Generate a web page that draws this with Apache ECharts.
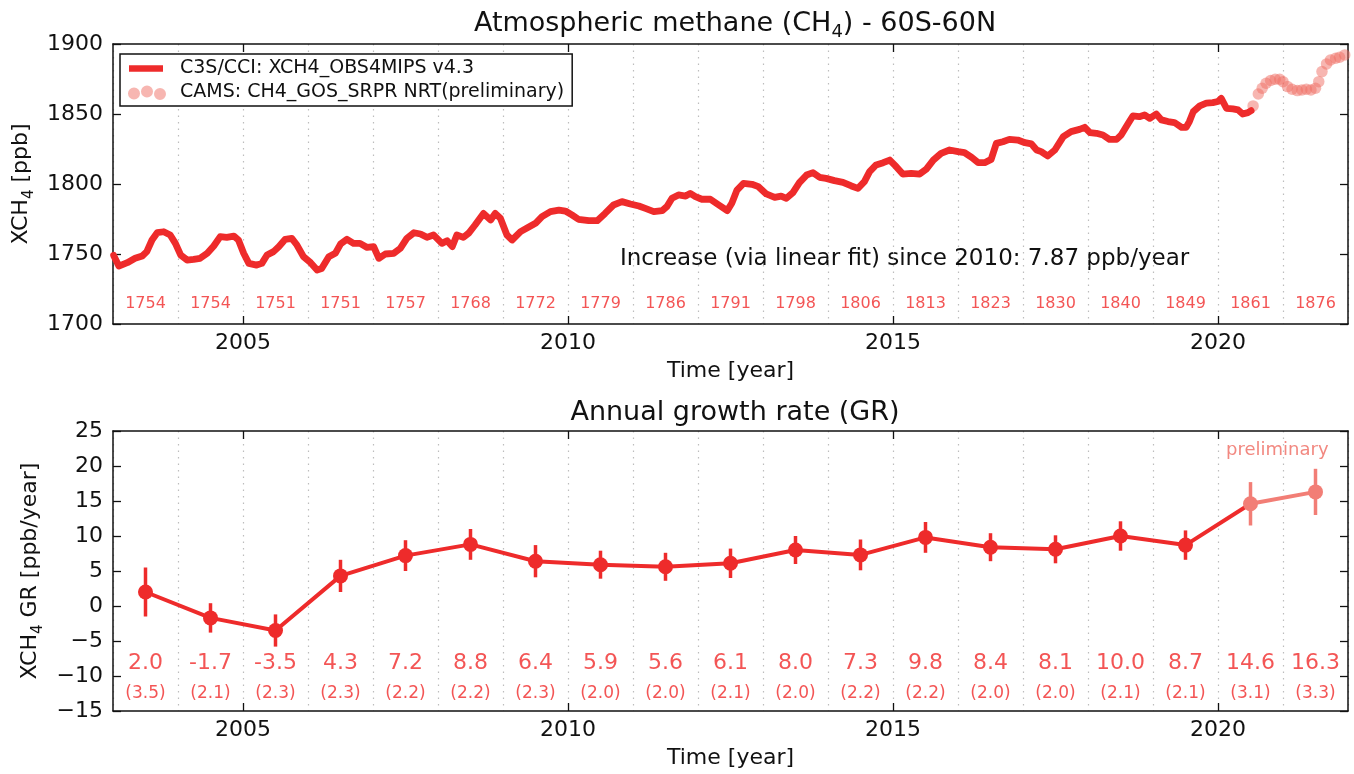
<!DOCTYPE html>
<html><head><meta charset="utf-8">
<script src="https://cdn.jsdelivr.net/npm/echarts@6/dist/echarts.min.js"></script>
<style>html,body{margin:0;padding:0;background:#fff}#c{width:1354px;height:774px}</style>
</head><body><div id="c"></div><script>
// ---------- DATA ----------
const years = [2003,2004,2005,2006,2007,2008,2009,2010,2011,2012,2013,2014,2015,2016,2017,2018,2019,2020,2021];
const annualMean = [1754,1754,1751,1751,1757,1768,1772,1779,1786,1791,1798,1806,1813,1823,1830,1840,1849,1861,1876];
const growthRate = [2.0,-1.7,-3.5,4.3,7.2,8.8,6.4,5.9,5.6,6.1,8.0,7.3,9.8,8.4,8.1,10.0,8.7,14.6,16.3];
const growthErr  = [3.5,2.1,2.3,2.3,2.2,2.2,2.3,2.0,2.0,2.1,2.0,2.2,2.2,2.0,2.0,2.1,2.1,3.1,3.3];
const nPrelimYears = 2;
const xTickValues = [2005, 2010, 2015, 2020];

const xch4Time = [2003.01,2003.09,2003.22,2003.34,2003.45,2003.52,2003.60,2003.68,2003.78,2003.88,2003.96,
 2004.04,2004.14,2004.24,2004.34,2004.45,2004.55,2004.65,2004.75,2004.86,2004.93,
 2005.01,2005.09,2005.21,2005.29,2005.37,2005.47,2005.55,2005.65,2005.75,2005.83,2005.93,
 2006.04,2006.14,2006.21,2006.32,2006.42,2006.50,2006.60,2006.70,2006.80,2006.91,
 2007.01,2007.09,2007.19,2007.32,2007.42,2007.52,2007.63,2007.73,2007.83,2007.93,
 2008.06,2008.14,2008.22,2008.29,2008.39,2008.47,2008.57,2008.70,2008.81,2008.88,2008.96,
 2009.06,2009.14,2009.27,2009.39,2009.50,2009.60,2009.73,2009.86,2009.96,
 2010.06,2010.16,2010.32,2010.45,2010.57,2010.70,2010.83,2010.96,
 2011.09,2011.19,2011.32,2011.45,2011.52,2011.60,2011.70,2011.81,2011.88,2011.96,
 2012.06,2012.19,2012.32,2012.45,2012.52,2012.60,2012.70,2012.83,2012.93,
 2013.05,2013.18,2013.28,2013.36,2013.46,2013.56,2013.67,2013.77,2013.87,2013.97,
 2014.10,2014.23,2014.36,2014.46,2014.56,2014.64,2014.74,2014.85,2014.95,
 2015.05,2015.15,2015.28,2015.41,2015.51,2015.62,2015.74,2015.87,
 2016.00,2016.10,2016.21,2016.31,2016.41,2016.51,2016.59,2016.69,2016.79,2016.92,
 2017.03,2017.13,2017.21,2017.28,2017.38,2017.49,2017.62,2017.74,2017.87,2017.95,
 2018.03,2018.13,2018.23,2018.33,2018.44,2018.51,2018.62,2018.69,2018.79,2018.87,2018.95,
 2019.05,2019.13,2019.23,2019.33,2019.44,2019.51,2019.56,2019.62,2019.72,2019.82,2019.92,
 2020.00,2020.05,2020.13,2020.23,2020.31,2020.38,2020.46,2020.51];
const xch4Value = [1749,1741.4,1743.8,1746.9,1748.6,1751.7,1760,1765.2,1765.9,1763.6,1757.6,
 1749.3,1745.7,1746.2,1746.9,1750.5,1755.7,1762.4,1761.9,1762.8,1760,
 1750.5,1743.3,1742.1,1743.3,1749.3,1751.7,1755.2,1760.5,1761.2,1756.4,1748.1,
 1743.8,1738.6,1739.7,1748.1,1750.5,1757.1,1760.5,1757.6,1757.6,1754.7,
 1755.2,1746.9,1750,1750.5,1754,1761.2,1765.2,1764.3,1761.9,1763.6,
 1757.6,1759.5,1755.3,1763.6,1761.9,1764.8,1770.7,1779,1774.3,1779,1775.5,
 1763.6,1760,1766,1769.1,1771.9,1776.7,1780.3,1781.4,1780.7,
 1777.9,1774.8,1773.8,1773.8,1779,1785,1787.4,1785.7,
 1784.3,1782.6,1780.3,1781,1783.8,1789.8,1792.2,1791.4,1793.3,1791,
 1789.1,1789.1,1785,1781,1786.2,1795.7,1800.5,1799.8,1798.1,
 1792.9,1790.5,1791.4,1789.8,1793.8,1801,1806.4,1808.1,1804.8,1804,
 1802.4,1801.2,1798.6,1796.9,1801.7,1808.8,1813.6,1815.2,1817.1,
 1812.4,1807.1,1807.6,1807.1,1810.5,1817.1,1821.9,1824.3,
 1823.1,1822.4,1819,1815.2,1815.2,1817.6,1829,1830.2,1831.9,1831.4,
 1829.5,1828.6,1824.3,1823.1,1820,1824.3,1833.8,1837.4,1839,1840.5,
 1836.7,1836.2,1835,1831.9,1831.9,1835,1843.4,1848.6,1848.1,1849.3,1846.9,
 1850,1845.8,1844.6,1843.9,1840.5,1840.5,1844.6,1851.7,1855.8,1857.7,1858.1,
 1858.9,1861.2,1854.1,1853.6,1852.9,1850,1851,1852.4];
const camsTime = [2020.54,2020.62,2020.68,2020.74,2020.81,2020.88,2020.95,2021.00,2021.07,2021.14,2021.22,
 2021.29,2021.36,2021.43,2021.50,2021.55,2021.60,2021.67,2021.73,2021.81,2021.87,2021.95];
const camsValue = [1855.8,1864.3,1868.4,1872,1873.9,1874.8,1874.8,1873.1,1869.6,1867.7,1866.7,
 1867.2,1867.7,1867.2,1868.4,1873.1,1880.3,1885.8,1888.6,1889.8,1890.5,1892.2];

// ---------- STYLE ----------
const FONT = 'DejaVu Sans';
const INK = '#111';
const RED = '#ee2b2b';
const LABEL_RED = '#f02a2a';
const SALMON = '#f27e76';
const CAMS_COLOR = 'rgba(240,110,100,0.5)';
const NAME_LINE = 'C3S/CCI: XCH4_OBS4MIPS v4.3';
const NAME_CAMS = 'CAMS: CH4_GOS_SRPR NRT(preliminary)';

const minus = v => String(v).replace('-', '\u2212');
const axisLine = {show:true, onZero:false, lineStyle:{color:INK, width:1.5}};
const tick = {show:true, inside:true, length:8, lineStyle:{color:INK, width:1.3}};
const subRich = {
  a:{fontSize:22, fontFamily:FONT, color:INK, lineHeight:30},
  s:{fontSize:15, fontFamily:FONT, color:INK, lineHeight:20, verticalAlign:'bottom'}
};

function xAxesFor(g) {
  return [
    {gridIndex:g, type:'value', min:2003, max:2022, position:'bottom', axisLine,
     axisTick:Object.assign({customValues:xTickValues}, tick),
     axisLabel:{customValues:xTickValues, fontSize:22, fontFamily:FONT, color:INK, margin:8, formatter:v=>String(v)},
     splitLine:{show:false},
     name:'Time [year]', nameLocation:'middle', nameGap:36,
     nameTextStyle:{fontSize:22, fontFamily:FONT, color:INK}},
    {gridIndex:g, type:'value', min:2003, max:2022, position:'top', axisLine,
     axisTick:Object.assign({customValues:xTickValues}, tick),
     axisLabel:{show:false}, splitLine:{show:false}},
    {gridIndex:g, type:'value', min:2003, max:2022, interval:1, position:'bottom',
     axisLine:{show:false}, axisTick:{show:false}, axisLabel:{show:false},
     splitLine:{show:true, lineStyle:{color:'#bdbdbd', width:1.2, type:[1.5,5]}}}
  ];
}
function yAxesFor(g, min, max, interval, nameText, gap) {
  return [
    {gridIndex:g, type:'value', min, max, interval, position:'left', axisLine, axisTick:tick,
     axisLabel:{fontSize:22, fontFamily:FONT, color:INK, margin:10, formatter:minus},
     splitLine:{show:false},
     name:nameText, nameLocation:'middle', nameGap:gap,
     nameTextStyle:{rich:subRich}},
    {gridIndex:g, type:'value', min, max, interval, position:'right', axisLine, axisTick:tick,
     axisLabel:{show:false}, splitLine:{show:false}}
  ];
}

const lineIcon = 'path://M0,0M47,15M1,4.3L35,4.3L35,10.7L1,10.7Z';
const dotsIcon = 'path://M0,0M47,15M0,8.5a6,6 0 1,0 12,0a6,6 0 1,0 -12,0ZM13,6.5a6,6 0 1,0 12,0a6,6 0 1,0 -12,0ZM26,9a6,6 0 1,0 12,0a6,6 0 1,0 -12,0Z';

const nMain = years.length - nPrelimYears;
const grPoints = years.map((y,i)=>[y+0.5, growthRate[i]]);

const option = {
  animation:false,
  backgroundColor:'#fff',
  title:[
    {text:'{a|Atmospheric methane (CH}{s|4}{a|) - 60S-60N}', left:730, top:2, textAlign:'center',
     textStyle:{rich:{a:{fontSize:27, fontFamily:FONT, color:INK, lineHeight:34, fontWeight:'normal'},
                      s:{fontSize:18, fontFamily:FONT, color:INK, lineHeight:22, verticalAlign:'bottom', fontWeight:'normal'}}}},
    {text:'Annual growth rate (GR)', left:730, top:394, textAlign:'center',
     textStyle:{fontSize:27, fontFamily:FONT, color:INK, fontWeight:'normal'}}
  ],
  legend:{
    left:120, top:54, orient:'vertical', itemWidth:47, itemHeight:15, itemGap:5,
    padding:[5,8,4,8], backgroundColor:'#fff', borderColor:INK, borderWidth:1.5, borderRadius:0,
    textStyle:{fontSize:19, fontFamily:FONT, color:INK},
    selectedMode:false,
    data:[{name:NAME_LINE, icon:lineIcon},{name:NAME_CAMS, icon:dotsIcon}]
  },
  grid:[
    {left:113, top:44, width:1235, height:280},
    {left:113, top:431, width:1235, height:280}
  ],
  xAxis: xAxesFor(0).concat(xAxesFor(1)),
  yAxis: yAxesFor(0, 1700, 1900, 50, '{a|XCH}{s|4}{a| [ppb]}', 68)
         .concat(yAxesFor(1, -15, 25, 5, '{a|XCH}{s|4}{a| GR [ppb/year]}', 66)),
  graphic:[
    {type:'text', style:{x:620, y:259, text:'Increase (via linear fit) since 2010: 7.87 ppb/year',
      font:'23px "DejaVu Sans"', fill:INK, verticalAlign:'middle'}},
    {type:'text', style:{x:1226, y:450, text:'preliminary',
      font:'18px "DejaVu Sans"', fill:'#f28880', verticalAlign:'middle'}}
  ],
  series:[
    {name:NAME_LINE, type:'line', xAxisIndex:0, yAxisIndex:0, showSymbol:false, z:4,
     data:xch4Time.map((t,i)=>[t, xch4Value[i]]),
     lineStyle:{color:RED, width:6.8, join:'round', cap:'round'}, itemStyle:{color:RED}},
    {name:NAME_CAMS, type:'scatter', xAxisIndex:0, yAxisIndex:0, symbolSize:11.5, z:3,
     data:camsTime.map((t,i)=>[t, camsValue[i]]), itemStyle:{color:CAMS_COLOR, opacity:1}},
    {type:'scatter', xAxisIndex:0, yAxisIndex:0, symbolSize:0, silent:true,
     data:years.map((y,i)=>[y+0.5, 1714.3, annualMean[i]]),
     label:{show:true, position:'inside', formatter:p=>p.value[2], fontSize:16, fontFamily:FONT, color:LABEL_RED}},
    // growth rate
    {type:'line', xAxisIndex:3, yAxisIndex:2, showSymbol:false, z:3,
     data:grPoints.slice(0, nMain+1), lineStyle:{color:RED, width:4}},
    {type:'line', xAxisIndex:3, yAxisIndex:2, showSymbol:false, z:3,
     data:grPoints.slice(nMain), lineStyle:{color:SALMON, width:4}},
    {type:'custom', xAxisIndex:3, yAxisIndex:2, z:4,
     data:years.map((y,i)=>[y+0.5, growthRate[i]-growthErr[i], growthRate[i]+growthErr[i], i]),
     encode:{x:0, y:[1,2]},
     renderItem:(params, api)=>{
       const lo = api.coord([api.value(0), api.value(1)]);
       const hi = api.coord([api.value(0), api.value(2)]);
       const prelim = api.value(3) >= nMain;
       return {type:'line', shape:{x1:lo[0], y1:lo[1], x2:hi[0], y2:hi[1]},
               style:{stroke:prelim?SALMON:RED, lineWidth:3.5}};
     }},
    {type:'scatter', xAxisIndex:3, yAxisIndex:2, symbolSize:15, z:5,
     data:grPoints.slice(0, nMain), itemStyle:{color:RED, opacity:1}},
    {type:'scatter', xAxisIndex:3, yAxisIndex:2, symbolSize:15, z:5,
     data:grPoints.slice(nMain), itemStyle:{color:SALMON, opacity:1}},
    {type:'scatter', xAxisIndex:3, yAxisIndex:2, symbolSize:0, silent:true,
     data:years.map((y,i)=>[y+0.5, -8.2, growthRate[i]]),
     label:{show:true, position:'inside', formatter:p=>p.value[2].toFixed(1), fontSize:22, fontFamily:FONT, color:LABEL_RED}},
    {type:'scatter', xAxisIndex:3, yAxisIndex:2, symbolSize:0, silent:true,
     data:years.map((y,i)=>[y+0.5, -12.5, growthErr[i]]),
     label:{show:true, position:'inside', formatter:p=>'('+p.value[2].toFixed(1)+')', fontSize:17, fontFamily:FONT, color:LABEL_RED}}
  ]
};
const chart = echarts.init(document.getElementById('c'), null, {renderer:'canvas'});
chart.setOption(option);
</script></body></html>
